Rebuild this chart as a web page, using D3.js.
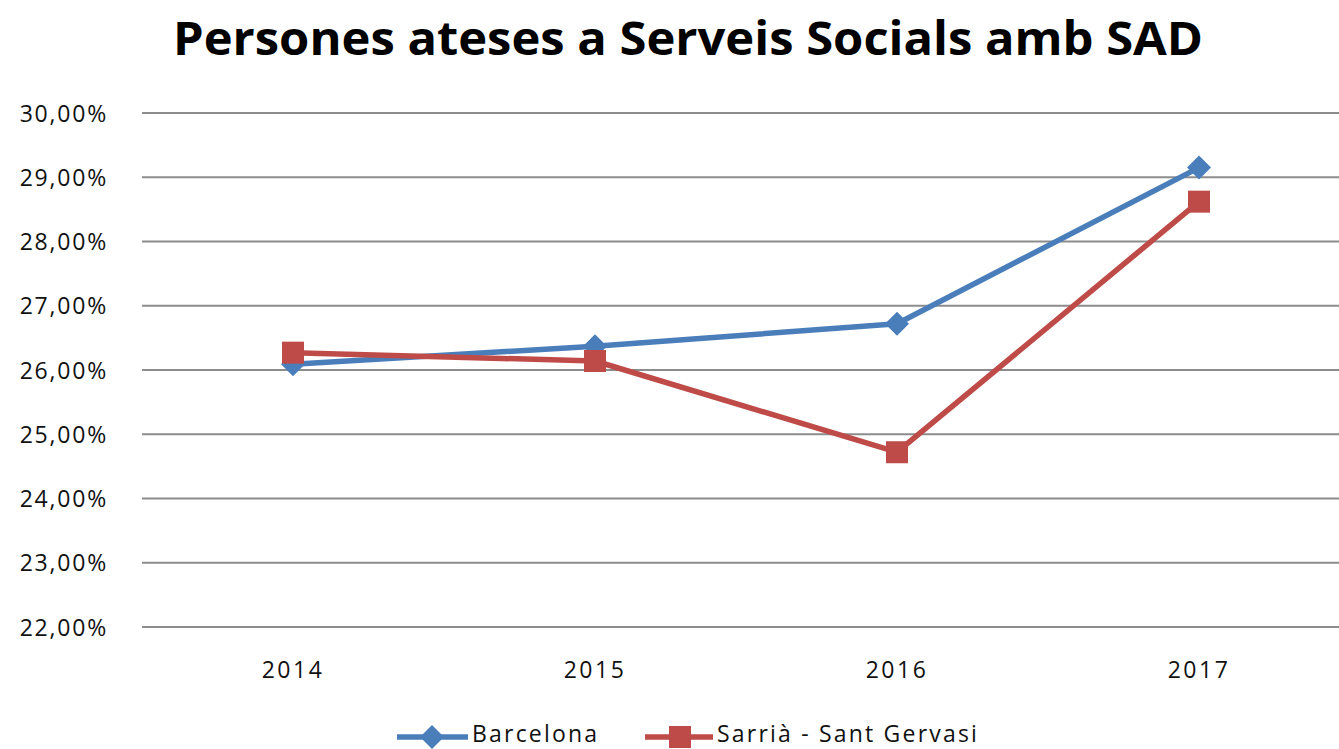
<!DOCTYPE html>
<html><head><meta charset="utf-8">
<script src="https://cdn.jsdelivr.net/npm/d3@7"></script>
<style>html,body{margin:0;padding:0;background:#fff;overflow:hidden}</style>
</head><body>
<svg id="c" width="1339" height="749"></svg>
<script>
const years = ["2014","2015","2016","2017"];
const barcelona = [26.09, 26.37, 26.72, 29.15];
const sarria = [26.27, 26.14, 24.72, 28.62];
const yTicks = [22,23,24,25,26,27,28,29,30];
const seriesNames = ["Barcelona","Sarrià - Sant Gervasi"];
const title = "Persones ateses a Serveis Socials amb SAD";

const svg = d3.select("#c");
const font = "'Open Sans', sans-serif";
const blue = "#4a7ebb", red = "#be4b48";
const txt = "#111";

const x = d3.scaleBand().domain(years).range([142, 1350]);
const y = d3.scaleLinear().domain([22,30]).range([627, 113]);

svg.append("text").attr("x", 688).attr("y", 55).attr("text-anchor","middle")
  .attr("font-family", font).attr("font-weight", 700).attr("font-size", 46)
  .attr("textLength", 1030).attr("lengthAdjust","spacingAndGlyphs")
  .text(title);

// gridlines
svg.append("g").selectAll("line").data(yTicks).join("line")
  .attr("x1", 142).attr("x2", 1339)
  .attr("y1", d => y(d)).attr("y2", d => y(d))
  .attr("stroke", "#8c8c8c").attr("stroke-width", 2);

const fmt = d => d.toFixed(2).replace(".", ",") + "%";
const yAxis = d3.axisLeft(y).tickValues(yTicks).tickFormat(fmt).tickSize(0).tickPadding(0);
const gy = svg.append("g").attr("transform","translate(108,0)").call(yAxis);
gy.select(".domain").remove();
gy.selectAll("text").attr("font-family", font).attr("font-size", 23).attr("fill",txt)
  .attr("letter-spacing", 1.8).attr("dy","0.35em");

const xAxis = d3.axisBottom(x).tickSize(0).tickPadding(0);
const gx = svg.append("g").attr("transform","translate(0,662)").call(xAxis);
gx.select(".domain").remove();
gx.selectAll("text").attr("font-family", font).attr("font-size", 23).attr("fill",txt)
  .attr("letter-spacing", 2.5).attr("dy","0.71em");

const line = d3.line().x((d,i) => x(years[i]) + x.bandwidth()/2).y(d => y(d));

function diamond(g, cx, cy, r) {
  g.append("path").attr("d", `M${cx},${cy-r}L${cx+r},${cy}L${cx},${cy+r}L${cx-r},${cy}Z`).attr("fill", blue);
}
function square(g, cx, cy, s) {
  g.append("rect").attr("x", cx-s/2).attr("y", cy-s/2).attr("width", s).attr("height", s).attr("fill", red);
}

svg.append("path").datum(barcelona).attr("d", line).attr("fill","none")
  .attr("stroke", blue).attr("stroke-width", 5.5).attr("stroke-linejoin","round");
svg.append("path").datum(sarria).attr("d", line).attr("fill","none")
  .attr("stroke", red).attr("stroke-width", 5.5).attr("stroke-linejoin","round");

const gm = svg.append("g");
barcelona.forEach((v,i) => diamond(gm, x(years[i]) + x.bandwidth()/2, y(v), 12));
sarria.forEach((v,i) => square(gm, x(years[i]) + x.bandwidth()/2, y(v), 22));

// legend
const lg = svg.append("g");
const ly = 734;
lg.append("line").attr("x1",397).attr("x2",468).attr("y1",ly+3).attr("y2",ly+3).attr("stroke",blue).attr("stroke-width",5.5);
diamond(lg, 432, ly+3, 12);
lg.append("text").attr("x",472).attr("y",ly).attr("dy","0.35em").attr("font-family",font).attr("font-size",23)
  .attr("letter-spacing",2.2).attr("fill",txt).text(seriesNames[0]);
lg.append("line").attr("x1",645).attr("x2",713).attr("y1",ly+3).attr("y2",ly+3).attr("stroke",red).attr("stroke-width",5.5);
square(lg, 680, ly+3, 22);
lg.append("text").attr("x",717).attr("y",ly).attr("dy","0.35em").attr("font-family",font).attr("font-size",23)
  .attr("letter-spacing",2.2).attr("fill",txt).text(seriesNames[1]);
</script>
</body></html>
